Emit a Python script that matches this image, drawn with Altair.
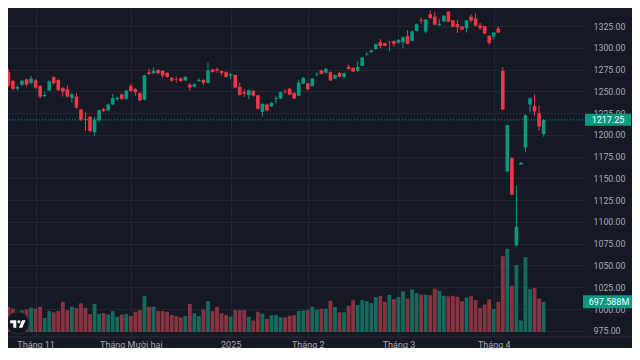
import altair as alt
import pandas as pd

# ---------------- data ----------------
oct_days = [23, 24, 25, 28, 29, 30, 31]
nov_days = [1, 4, 5, 6, 7, 8, 11, 12, 13, 14, 15, 18, 19, 20, 21, 22, 25, 26, 27, 28, 29]
dec_days = [2, 3, 4, 5, 6, 9, 10, 11, 12, 13, 16, 17, 18, 19, 20, 23, 24, 25, 26, 27, 30, 31]
jan_days = [2, 3, 6, 7, 8, 9, 10, 13, 14, 15, 16, 17, 20, 21, 22, 23, 24]
feb_days = [3, 4, 5, 6, 7, 10, 11, 12, 13, 14, 17, 18, 19, 20, 21, 24, 25, 26, 27, 28]
mar_days = [3, 4, 5, 6, 7, 10, 11, 12, 13, 14, 17, 18, 19, 20, 21, 24, 25, 26, 27, 28, 31]
apr_days = [1, 2, 3, 4, 8, 9, 10, 11, 14, 15, 16, 17]

dates = ([f"2024-10-{d:02d}" for d in oct_days] + [f"2024-11-{d:02d}" for d in nov_days]
         + [f"2024-12-{d:02d}" for d in dec_days] + [f"2025-01-{d:02d}" for d in jan_days]
         + [f"2025-02-{d:02d}" for d in feb_days] + [f"2025-03-{d:02d}" for d in mar_days]
         + [f"2025-04-{d:02d}" for d in apr_days])

opens = [
    1268, 1272, 1262, 1253, 1257.6, 1263.7, 1259.8,
    1262.6, 1256.2, 1244.7, 1251.2, 1266.2, 1263, 1253.7, 1252.2, 1242.6, 1244, 1229.3, 1218.6, 1220.7, 1203,
    1216.8, 1229.6, 1228.3, 1235, 1241.2, 1246.5, 1241.5,
    1256.2, 1252.6, 1247.9, 1240.4, 1271.6, 1270.9, 1274.5, 1273.7, 1271.3, 1265.5, 1264, 1265.1, 1262.6,
    1257.6, 1255.5, 1261.9, 1263, 1259.8, 1275.2, 1275.5, 1273.4, 1272,
    1268.4, 1268.8, 1255.1, 1249.4, 1245.8, 1250.5, 1245.4, 1226.4, 1234.7, 1232.9, 1241.2, 1241.9, 1250.1,
    1253, 1247.9, 1245.1, 1258.7,
    1259.1, 1256.2, 1269.1, 1274.1, 1271.3, 1272, 1264.8, 1271.3, 1266.6, 1278.5, 1277, 1273.7, 1279.5,
    1292.4, 1295, 1298.5, 1306.7, 1305.3, 1306.7, 1307.8,
    1305.7, 1306.4, 1313.5, 1308.1, 1319.3, 1332.2, 1318.6, 1338.6, 1335.8, 1325.8, 1330.4, 1341.4, 1331.5,
    1327.2, 1324.3, 1322.8, 1335.8, 1333.6, 1325.8, 1325, 1313.9,
    1312.9, 1322.1, 1273.4, 1158, 1173.4, 1073.1, 1166, 1185.6, 1234.8, 1232.9, 1225, 1201,
]
closes = [
    1271, 1257, 1253, 1255, 1262.3, 1258, 1264.8,
    1254.4, 1244, 1245.8, 1261.6, 1259.4, 1251.6, 1249.7, 1244, 1246.5, 1231.2, 1217.5, 1217.6, 1204.6, 1217.5,
    1228.3, 1227.5, 1235, 1242.2, 1242.6, 1241.5, 1250.8,
    1250.5, 1249, 1239.7, 1268.4, 1269.9, 1273.7, 1270.9, 1268, 1266.6, 1262.3, 1263.4, 1261.9, 1266.6,
    1254.4, 1258, 1263, 1259.8, 1274.1, 1272.3, 1274, 1271.3, 1266.6,
    1269.9, 1254.4, 1245.8, 1247.3, 1251.2, 1245.1, 1230.1, 1235.5, 1227.9, 1236.8, 1242.2, 1249, 1249.4,
    1246.3, 1241.9, 1260.2, 1265.5,
    1252.6, 1264.7, 1269.9, 1270.1, 1275.9, 1262.6, 1268.8, 1266.6, 1270.9, 1275.6, 1272.7, 1278.1, 1288.8,
    1293.1, 1297, 1304.3, 1302.1, 1302.4, 1307.4, 1304.3,
    1309.2, 1312.1, 1304.6, 1318.9, 1327.2, 1331.1, 1332.5, 1334.3, 1326.5, 1327.2, 1336.8, 1330, 1324.3,
    1323.6, 1321, 1331.5, 1331.5, 1325.4, 1322.8, 1316.4, 1305.7,
    1317.5, 1317.5, 1229.3, 1211, 1131.5, 1094.6, 1168, 1222.6, 1241.9, 1226.9, 1209.7, 1217.25,
]
highs = [
    1274, 1276, 1263, 1257, 1263, 1265, 1268,
    1264, 1257, 1249, 1262.5, 1267, 1264, 1255, 1257, 1248, 1248, 1230, 1226, 1222, 1221,
    1229, 1231, 1236, 1247, 1244, 1247.5, 1251.5,
    1258.5, 1254, 1249, 1269, 1276, 1277.5, 1275.5, 1274.5, 1272, 1266.5, 1267, 1266, 1267.5,
    1259.5, 1259, 1265.5, 1264, 1283, 1276, 1277.5, 1274, 1273,
    1271, 1269.5, 1260, 1253, 1252, 1251.5, 1246, 1236.5, 1236, 1238, 1245, 1250, 1252.5,
    1254, 1249, 1263.5, 1266.5,
    1260, 1265.5, 1272, 1275, 1277, 1273, 1269.5, 1272, 1271.5, 1280.5, 1278, 1284.5, 1289.5,
    1295, 1297.5, 1305, 1310, 1306, 1308, 1308.5,
    1310, 1313, 1320.5, 1319.5, 1328, 1335, 1333, 1343, 1341.5, 1333.5, 1337.5, 1342, 1332,
    1332, 1325, 1332, 1338.5, 1339.5, 1328.5, 1325.5, 1314.5,
    1318, 1325, 1278, 1212, 1174.5, 1141.5, 1168.5, 1223.5, 1243, 1246.5, 1234, 1218,
]
lows = [
    1266, 1255, 1251, 1251, 1256, 1255.5, 1258,
    1253, 1242, 1243, 1250, 1258, 1250.5, 1244, 1243, 1237, 1230, 1216, 1204.6, 1203, 1199,
    1215, 1226, 1227, 1234, 1239, 1240, 1240,
    1249, 1245, 1238.5, 1239.5, 1269, 1270, 1270, 1265.5, 1265.5, 1261, 1260, 1261, 1262,
    1251, 1254.5, 1261, 1257, 1259, 1271.5, 1271.5, 1268, 1266,
    1264, 1253.5, 1245, 1243.5, 1241, 1244, 1229, 1221, 1227, 1232, 1236, 1241, 1247,
    1245.5, 1241, 1244.5, 1258,
    1251, 1255.5, 1267, 1269.5, 1270.5, 1262, 1264, 1266, 1264.5, 1275, 1272, 1272.5, 1279,
    1291, 1294, 1298, 1299.5, 1301.5, 1296, 1301,
    1305, 1299.5, 1304, 1307.5, 1318.5, 1327.5, 1316.5, 1332.5, 1326, 1325, 1329.5, 1329.5, 1323.5,
    1317, 1320.5, 1317.5, 1329, 1325, 1320.5, 1316, 1303.5,
    1309.5, 1317, 1228.5, 1157, 1130.5, 1072, 1165.5, 1180, 1226, 1222, 1204.6, 1198,
]
volumes_m = [
    512, 583, 540, 410, 497, 518, 562,
    540, 583, 324, 482, 454, 482, 698, 504, 583, 554, 662, 554, 410, 648, 418, 432, 403, 482, 353, 403, 418,
    367, 468, 504, 835, 583, 583, 482, 482, 468, 389, 367, 338, 367, 648, 432, 367, 518, 713, 482, 583, 432, 389,
    353, 504, 504, 504, 353, 266, 468, 425, 302, 389, 389, 338, 338, 374, 389, 482, 497,
    504, 583, 518, 540, 540, 719, 577, 454, 454, 605, 734, 620, 734, 713, 670, 806, 836, 698, 858, 756,
    806, 935, 771, 987, 901, 864, 858, 849, 1000, 950, 836, 821, 836, 814, 713, 799, 836, 734, 555, 633, 756,
    534, 698, 1750, 1922, 1065, 1549, 266, 1728, 987, 1015, 771, 697.588,
]

tick_dates = ["2024-11-01", "2024-12-02", "2025-01-02", "2025-02-03", "2025-03-03", "2025-04-01"]
tick_labels = ["Tháng 11", "Tháng Mười hai", "2025", "Tháng 2", "Tháng 3", "Tháng 4"]
price_ticks = [975, 1000, 1025, 1050, 1075, 1100, 1125, 1150, 1175, 1200, 1225, 1250, 1275, 1300, 1325, 1350]
last_price = 1217.25
last_price_label = "1217.25"
last_volume = 697.588
last_volume_label = "697.588M"

# ---------------- styling ----------------
BG = "#161A25"
GRID = "#232733"
TXT = "#A6A9B2"
UP = "#089981"
DOWN = "#F23645"
VUP = "#136A5D"
VDOWN = "#8A3340"
FONT = "Roboto"

W, H = 575, 329

df = pd.DataFrame({"date": dates, "open": opens, "high": highs, "low": lows,
                   "close": closes, "volume": volumes_m})
df["i"] = range(len(df))

tick_idx = [dates.index(d) for d in tick_dates]
label_expr = "".join(f"datum.value == {i} ? '{l}' : " for i, l in zip(tick_idx, tick_labels)) + "''"

x_axis = alt.Axis(values=tick_idx, labelExpr=label_expr, title=None, grid=True, gridColor=GRID,
                  gridWidth=1, domain=False, ticks=False, labelColor=TXT, labelFont=FONT,
                  labelFontSize=9, labelPadding=3, labelBaseline="top", labelFlush=False,
                  labelOverlap=False, labelAngle=0)
X = alt.X("i:Q", scale=alt.Scale(domain=[2.015, 126.58], nice=False, zero=False), axis=x_axis)

y_price = alt.Scale(domain=[973.6, 1340.0], nice=False, zero=False)
y_axis = alt.Axis(orient="right", values=price_ticks, format=".2f", title=None, grid=True,
                  gridColor=GRID, domain=False, ticks=False, labelColor=TXT, labelFont=FONT,
                  labelFontSize=8.8, labelPadding=10, labelAlign="left", labelBaseline="middle",
                  labelOverlap=False)
y_vol = alt.Scale(domain=[0, 7365], nice=False, zero=True)

candle_color = alt.condition("datum.close >= datum.open", alt.value(UP), alt.value(DOWN))
vol_color = alt.condition("datum.close >= datum.open", alt.value(VUP), alt.value(VDOWN))

# volume pane
vol_bars = alt.Chart(df).mark_bar(size=3.8, clip=True).encode(
    x=X, y=alt.Y("volume:Q", scale=y_vol, axis=None, stack=None), color=vol_color)
vol_df = pd.DataFrame({"v": [last_volume], "t": [last_volume_label]})
vol_box = alt.Chart(vol_df).mark_bar(orient="horizontal", size=13, color=UP).encode(
    y=alt.Y("v:Q", scale=y_vol, axis=None), x=alt.value(575), x2=alt.value(624))
vol_text = alt.Chart(vol_df).mark_text(color="#FFFFFF", font=FONT, fontSize=9, align="center",
                                       baseline="middle").encode(
    y=alt.Y("v:Q", scale=y_vol, axis=None), x=alt.value(601), text="t:N")
vol_group = alt.layer(vol_bars, vol_box, vol_text)

# price pane
wicks = alt.Chart(df).mark_rule(strokeWidth=1, clip=True).encode(
    x=X, y=alt.Y("low:Q", scale=y_price, axis=y_axis), y2="high:Q", color=candle_color)
bodies = alt.Chart(df).mark_bar(size=3.6, clip=True).encode(
    x=X, y=alt.Y("open:Q", scale=y_price, axis=y_axis), y2="close:Q", color=candle_color)
last_df = pd.DataFrame({"p": [last_price], "t": [last_price_label]})
price_line = alt.Chart(last_df).mark_rule(color=UP, strokeDash=[1, 2], strokeWidth=1).encode(
    y=alt.Y("p:Q", scale=y_price, axis=y_axis))
price_box = alt.Chart(last_df).mark_bar(orient="horizontal", size=12, color=UP).encode(
    y=alt.Y("p:Q", scale=y_price, axis=y_axis), x=alt.value(577), x2=alt.value(623))
price_text = alt.Chart(last_df).mark_text(color="#FFFFFF", font=FONT, fontSize=9, align="center",
                                          baseline="middle").encode(
    y=alt.Y("p:Q", scale=y_price, axis=y_axis), x=alt.value(600), text="t:N")
price_group = alt.layer(wicks, bodies, price_line, price_box, price_text)

one = pd.DataFrame({"k": [0]})
separator = alt.Chart(one).mark_rule(color="#2A2E39", strokeWidth=1).encode(
    x=alt.value(0), x2=alt.value(624), y=alt.value(H))

TV_PATH = ("M-1,-0.5L-0.222,-0.5L-0.222,0.5L-0.611,0.5L-0.611,-0.111L-1,-0.111Z"
           "M0.111,0.5L0.528,-0.5L0.972,-0.5L0.556,0.5Z"
           "M-0.083,-0.306A0.194,0.194 0 1,0 0.305,-0.306A0.194,0.194 0 1,0 -0.083,-0.306Z")
logo_circle = alt.Chart(one).mark_point(shape="circle", filled=True, fill="#131722", stroke="#2E323E",
                                        strokeWidth=1, size=500, opacity=1).encode(
    x=alt.value(10), y=alt.value(315))
logo_glyph = alt.Chart(one).mark_point(shape=TV_PATH, filled=True, color="#FFFFFF", size=240,
                                       opacity=1).encode(x=alt.value(10), y=alt.value(316))

chart = alt.layer(vol_group, price_group, separator, logo_circle, logo_glyph).resolve_scale(
    y="independent"
).properties(
    width=W, height=H,
    padding={"left": 0, "top": 0, "right": 49, "bottom": 11},
    autosize=alt.AutoSizeParams(type="none"),
    background=BG,
).configure_view(strokeWidth=0)

chart.save("out.html", embed_options={"renderer": "svg", "actions": False})
